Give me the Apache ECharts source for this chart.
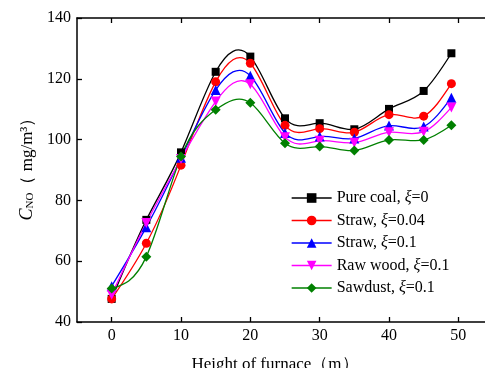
<!DOCTYPE html>
<html>
<head>
<meta charset="utf-8">
<script src="https://cdn.jsdelivr.net/npm/echarts@6/dist/echarts.min.js"></script>
<style>html,body{margin:0;padding:0;background:#fff}#c{width:485px;height:368px}</style>
</head>
<body>
<div id="c"></div>
<script>
var heights = [0, 5, 10, 15, 20, 25, 30, 35, 40, 45, 49];
var pureCoal = [47.6, 73.6, 95.8, 122.3, 127.3, 107.0, 105.4, 103.4, 110.1, 116.0, 128.4];
var straw004 = [47.6, 65.9, 91.6, 119.0, 125.1, 104.7, 103.6, 102.4, 108.2, 107.7, 118.4];
var straw01 = [51.8, 71.2, 94.0, 116.3, 121.0, 102.2, 101.0, 100.4, 104.6, 104.3, 113.8];
var rawWood = [49.0, 72.6, 93.6, 112.5, 118.2, 100.8, 99.6, 99.0, 102.4, 102.6, 110.6];
var sawdust = [51.0, 61.5, 94.4, 109.8, 112.1, 98.8, 97.7, 96.4, 99.9, 99.9, 104.7];
var xTicks = [0, 10, 20, 30, 40, 50];
var seriesNames = ['Pure coal', 'Straw', 'Straw', 'Raw wood', 'Sawdust'];
var xiValues = ['0', '0.04', '0.1', '0.1', '0.1'];

var font = 'Liberation Serif';
function pairs(v) { return heights.map(function (h, i) { return [h, v[i]]; }); }
var colors = ['#000000', '#ff0000', '#0000ff', '#ff00ff', '#008000'];
var symbols = ['rect', 'circle', 'triangle', 'path://M0,0 L10,0 L5,9 Z', 'diamond'];
var sizes = [8, 9, 10, 10, 10];
var dataSets = [pureCoal, straw004, straw01, rawWood, sawdust];
var legendKeys = seriesNames.map(function (n, i) { return n + ', ξ=' + xiValues[i]; });

// natural cubic spline slopes at the data nodes (used only to shape the curve)
function splineSlopes(xs, ys) {
  var n = xs.length, h = [], i;
  for (i = 0; i < n - 1; i++) h.push(xs[i + 1] - xs[i]);
  var a = [], b = [], c = [], d = [];
  for (i = 0; i < n; i++) {
    if (i === 0 || i === n - 1) { a.push(0); b.push(1); c.push(0); d.push(0); }
    else {
      a.push(h[i - 1]); b.push(2 * (h[i - 1] + h[i])); c.push(h[i]);
      d.push(6 * ((ys[i + 1] - ys[i]) / h[i] - (ys[i] - ys[i - 1]) / h[i - 1]));
    }
  }
  for (i = 1; i < n; i++) { var w = a[i] / b[i - 1]; b[i] -= w * c[i - 1]; d[i] -= w * d[i - 1]; }
  var M = new Array(n);
  M[n - 1] = d[n - 1] / b[n - 1];
  for (i = n - 2; i >= 0; i--) M[i] = (d[i] - c[i] * M[i + 1]) / b[i];
  var m = [];
  for (i = 0; i < n - 1; i++) m.push((ys[i + 1] - ys[i]) / h[i] - h[i] * (2 * M[i] + M[i + 1]) / 6);
  m.push((ys[n - 1] - ys[n - 2]) / h[n - 2] + h[n - 2] * (M[n - 2] + 2 * M[n - 1]) / 6);
  return m;
}

var series = [];
dataSets.forEach(function (d, k) {
  var slopes = splineSlopes(heights, d);
  series.push({
    name: 'curve' + k,
    type: 'custom',
    data: pairs(d),
    z: 2,
    silent: true,
    renderItem: function (params, api) {
      var i = params.dataIndex;
      if (i >= heights.length - 1) return null;
      var x0 = heights[i], x1 = heights[i + 1], hh = x1 - x0;
      var p0 = api.coord([x0, d[i]]);
      var p1 = api.coord([x1, d[i + 1]]);
      var c1 = api.coord([x0 + hh / 3, d[i] + slopes[i] * hh / 3]);
      var c2 = api.coord([x1 - hh / 3, d[i + 1] - slopes[i + 1] * hh / 3]);
      return {
        type: 'bezierCurve',
        shape: { x1: p0[0], y1: p0[1], x2: p1[0], y2: p1[1], cpx1: c1[0], cpy1: c1[1], cpx2: c2[0], cpy2: c2[1] },
        style: { stroke: colors[k], fill: 'none', lineWidth: 1.3 }
      };
    },
    animation: false
  });
});
dataSets.forEach(function (d, k) {
  series.push({
    name: legendKeys[k],
    type: 'line',
    data: pairs(d),
    z: 3,
    symbol: symbols[k],
    symbolSize: sizes[k],
    color: colors[k],
    lineStyle: { width: 1.3, color: colors[k], opacity: 0 },
    itemStyle: { color: colors[k] },
    animation: false
  });
});

var chart = echarts.init(document.getElementById('c'));
chart.setOption({
  animation: false,
  backgroundColor: '#fff',
  textStyle: { fontFamily: font },
  grid: { left: 77, top: 18, width: 416, height: 304, outerBoundsMode: 'none', containLabel: false },
  legend: {
    orient: 'vertical',
    left: 286, top: 185,
    itemWidth: 40, itemHeight: 12, itemGap: 6.5,
    lineStyle: { opacity: 1, width: 1.3 },
    textStyle: {
      fontFamily: font, fontSize: 16, color: '#000', lineHeight: 16,
      rich: {
        n: { fontFamily: font, fontSize: 16, color: '#000' },
        i: { fontFamily: font, fontSize: 16, fontStyle: 'italic', color: '#000' }
      }
    },
    formatter: function (name) {
      var k = legendKeys.indexOf(name);
      return '{n|' + seriesNames[k] + ', }{i|ξ}{n|=' + xiValues[k] + '}';
    },
    data: legendKeys
  },
  xAxis: [{
    type: 'value', min: -5, max: 55,
    name: 'Height of furnace（m）',
    nameLocation: 'middle', nameGap: 34,
    nameTextStyle: { fontFamily: font, fontSize: 17, color: '#000', padding: [0, 20, 0, 0] },
    axisLine: { show: true, onZero: false, lineStyle: { color: '#000', width: 1.5 } },
    axisTick: { show: true, inside: true, length: 5, customValues: xTicks, lineStyle: { color: '#000', width: 1.3 } },
    axisLabel: { customValues: xTicks, fontFamily: font, fontSize: 16, color: '#000', margin: 6 },
    splitLine: { show: false }
  }, {
    type: 'value', min: -5, max: 55, position: 'top',
    axisLine: { show: true, onZero: false, lineStyle: { color: '#000', width: 1.5 } },
    axisTick: { show: true, inside: true, length: 5, customValues: xTicks, lineStyle: { color: '#000', width: 1.3 } },
    axisLabel: { show: false },
    splitLine: { show: false }
  }],
  yAxis: [{
    type: 'value', min: 40, max: 140, interval: 20,
    name: '{i|C}{s|NO}{n|（ mg/m³）}',
    nameLocation: 'middle', nameGap: 41, nameRotate: 90,
    nameTextStyle: {
      color: '#000',
      padding: [0, 0, 0, 10],
      rich: {
        i: { fontFamily: font, fontSize: 18, fontStyle: 'italic', color: '#000', verticalAlign: 'bottom' },
        s: { fontFamily: font, fontSize: 11, color: '#000', verticalAlign: 'bottom' },
        n: { fontFamily: font, fontSize: 17, color: '#000', verticalAlign: 'bottom' }
      }
    },
    axisLine: { show: true, onZero: false, lineStyle: { color: '#000', width: 1.5 } },
    axisTick: { show: true, inside: true, length: 5, lineStyle: { color: '#000', width: 1.3 } },
    axisLabel: { fontFamily: font, fontSize: 16, color: '#000', margin: 6 },
    splitLine: { show: false }
  }],
  series: series
});
</script>
</body>
</html>
